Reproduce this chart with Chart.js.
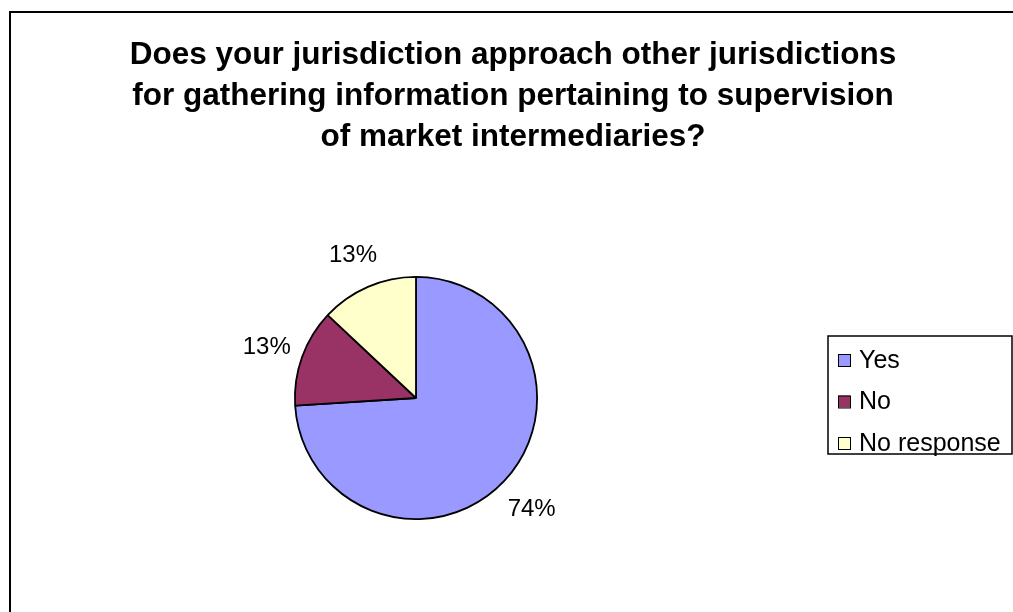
<!DOCTYPE html>
<html>
<head>
<meta charset="utf-8">
<title>Jurisdiction survey</title>
<script src="https://cdn.jsdelivr.net/npm/chart.js@4.4.1/dist/chart.umd.min.js"></script>
<style>
    html, body { margin: 0; padding: 0; background: #fff; }
    canvas { display: block; }
</style>
</head>
<body>
<canvas id="surveyPie" width="1013" height="612"></canvas>
<script>
// Survey answers (percent of respondents)
const answerLabels = ['Yes', 'No', 'No response'];
const answerShares = [74, 13, 13];
const sliceColors = ['#9999FF', '#993366', '#FFFFCC'];
const titleLines = [
    'Does your jurisdiction approach other jurisdictions',
    'for gathering information pertaining to supervision',
    'of market intermediaries?'
];

const FONT = '"Liberation Sans", Arial, sans-serif';

// white page + outer frame of the chart object
const framePlugin = {
    id: 'frame',
    beforeDraw(chart) {
        const ctx = chart.ctx;
        ctx.save();
        ctx.fillStyle = '#fff';
        ctx.fillRect(0, 0, chart.width, chart.height);
        ctx.restore();
    },
    afterDraw(chart) {
        const ctx = chart.ctx;
        ctx.save();
        ctx.strokeStyle = '#000';
        ctx.lineWidth = 2;
        ctx.beginPath();
        ctx.moveTo(9, 12);
        ctx.lineTo(chart.width, 12);
        ctx.moveTo(10, 11);
        ctx.lineTo(10, chart.height);
        ctx.stroke();
        ctx.restore();
    }
};

// three-line bold heading
const headingPlugin = {
    id: 'heading',
    afterDraw(chart) {
        const ctx = chart.ctx;
        ctx.save();
        ctx.fillStyle = '#000';
        ctx.font = 'bold 31.5px ' + FONT;
        ctx.textAlign = 'center';
        ctx.textBaseline = 'alphabetic';
        titleLines.forEach((line, i) => {
            ctx.fillText(line, 513, 64 + i * 41);
        });
        ctx.restore();
    }
};

// percentage labels outside each slice
const sliceLabelPlugin = {
    id: 'sliceLabels',
    afterDatasetsDraw(chart) {
        const ctx = chart.ctx;
        const meta = chart.getDatasetMeta(0);
        const total = answerShares.reduce((a, b) => a + b, 0);
        ctx.save();
        ctx.fillStyle = '#000';
        ctx.font = '24px ' + FONT;
        ctx.textAlign = 'center';
        ctx.textBaseline = 'middle';
        meta.data.forEach((arc, i) => {
            const p = arc.getProps(['x', 'y', 'startAngle', 'endAngle', 'outerRadius'], true);
            const mid = (p.startAngle + p.endAngle) / 2;
            const dist = p.outerRadius * 1.31;
            const tx = p.x + Math.cos(mid) * dist;
            const ty = p.y + Math.sin(mid) * dist + 3;
            const pct = Math.round(answerShares[i] / total * 100) + '%';
            ctx.fillText(pct, tx, ty);
        });
        ctx.restore();
    }
};

// boxed legend on the right
const boxLegendPlugin = {
    id: 'boxLegend',
    afterDraw(chart) {
        const ctx = chart.ctx;
        const left = 828, top = 336, w = 184, h = 118;
        ctx.save();
        ctx.strokeStyle = '#000';
        ctx.lineWidth = 1.5;
        ctx.strokeRect(left, top, w, h);
        ctx.font = '25px ' + FONT;
        ctx.textBaseline = 'middle';
        answerLabels.forEach((name, i) => {
            const cy = 360 + i * 41.5;
            ctx.fillStyle = sliceColors[i];
            ctx.fillRect(838, cy - 6, 12, 12);
            ctx.strokeStyle = '#000';
            ctx.lineWidth = 1;
            ctx.strokeRect(838.5, cy - 5.5, 12, 12);
            ctx.fillStyle = '#000';
            ctx.fillText(name, 859, cy + 1);
        });
        ctx.restore();
    }
};

new Chart(document.getElementById('surveyPie'), {
    type: 'pie',
    data: {
        labels: answerLabels,
        datasets: [{
            data: answerShares,
            backgroundColor: sliceColors,
            borderColor: '#000',
            borderWidth: 1.8,
            borderAlign: 'center'
        }]
    },
    options: {
        responsive: false,
        animation: false,
        layout: {
            padding: { left: 294, top: 276, right: 475, bottom: 92 }
        },
        plugins: {
            legend: { display: false },
            title: { display: false },
            tooltip: { enabled: false }
        }
    },
    plugins: [framePlugin, headingPlugin, sliceLabelPlugin, boxLegendPlugin]
});
</script>
</body>
</html>
